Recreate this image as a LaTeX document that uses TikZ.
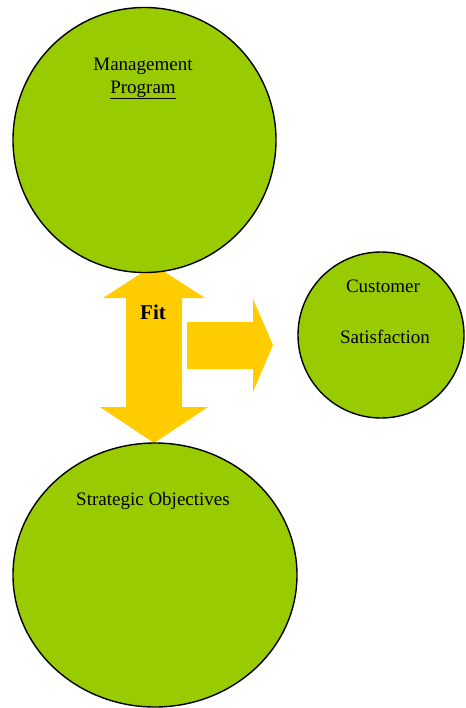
\documentclass[tikz,border=0pt]{standalone}
\usepackage{fontspec}
\setmainfont{Liberation Serif}
\definecolor{leaf}{HTML}{99CC00}
\definecolor{gold}{HTML}{FFCC00}
\begin{document}
\begin{tikzpicture}[x=1pt,y=-1pt,
  blob/.style={ellipse,draw=black,line width=1.4pt,fill=leaf,inner sep=0pt},
  lbl/.style={font=\fontsize{19}{22}\selectfont,text=black,inner sep=0pt},
  arrowfill/.style={fill=gold,draw=none}]
\usetikzlibrary{shapes.geometric}
\useasboundingbox (0,0) rectangle (465,708);
% arrows
\fill[arrowfill] (154,265) -- (205,298) -- (182,298) -- (182,407) -- (208,407) -- (154,443)
  -- (100,407) -- (126,407) -- (126,298) -- (103,298) -- cycle;
\fill[arrowfill] (187,322) -- (253,322) -- (253,299) -- (273,345) -- (253,392) -- (253,369) -- (187,369) -- cycle;
% circles
\node[blob,minimum width=263pt,minimum height=265pt] (mp) at (144.5,140) {};
\node[blob,minimum width=166pt,minimum height=166pt] (cs) at (381,335) {};
\node[blob,minimum width=284pt,minimum height=264pt] (so) at (155,575) {};
% texts
\node[lbl] (t1) at (143,66) {Management};
\node[lbl] (t2) at (143,90) {\underline{Program}};
\node[lbl] (t3) at (383,286) {Customer};
\node[lbl] (t4) at (385,337) {Satisfaction};
\node[lbl] (t5) at (153,501) {Strategic Objectives};
\node[lbl,font=\fontsize{21}{24}\selectfont\bfseries] (fit) at (153,312) {Fit};
\end{tikzpicture}
\end{document}
